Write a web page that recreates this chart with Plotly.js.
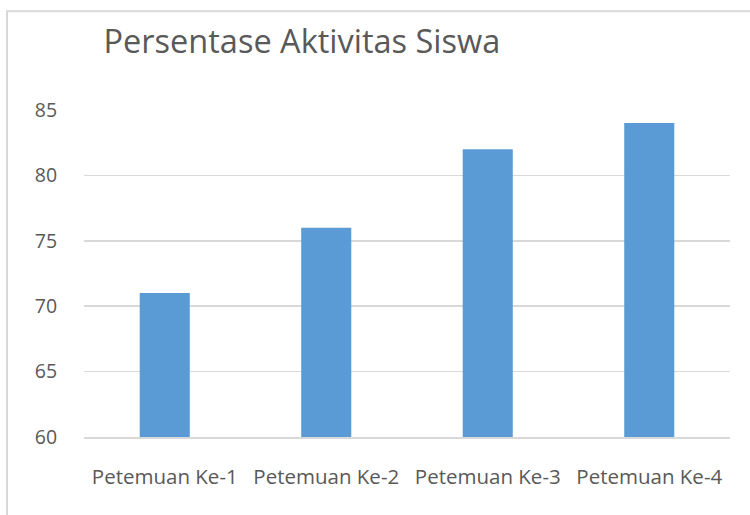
<!DOCTYPE html>
<html>
<head>
<meta charset="utf-8">
<script src="https://cdn.plot.ly/plotly-3.0.1.min.js"></script>
<style>html,body{margin:0;padding:0;background:#fff;}#chart{width:750px;height:515px;}</style>
</head>
<body>
<div id="chart"></div>
<script>
const categories = ["Petemuan Ke-1", "Petemuan Ke-2", "Petemuan Ke-3", "Petemuan Ke-4"];
const values = [71, 76, 82, 84];
const yTicks = [60, 65, 70, 75, 80, 85];

const trace = {
  type: 'bar',
  x: categories,
  y: values,
  marker: {color: '#5B9BD5'},
  hoverinfo: 'x+y'
};

const layout = {
  width: 750,
  height: 515,
  margin: {l: 84, r: 20, t: 110, b: 78},
  paper_bgcolor: '#ffffff',
  plot_bgcolor: '#ffffff',
  bargap: 0.69,
  showlegend: false,
  font: {family: 'Open Sans, sans-serif', color: '#595959'},
  title: {
    text: 'Persentase Aktivitas Siswa',
    font: {size: 32.5, color: '#595959', family: 'Open Sans, sans-serif'},
    xref: 'container', x: 0.138, xanchor: 'left',
    yref: 'container', y: 0.92, yanchor: 'middle'
  },
  xaxis: {
    type: 'category',
    showgrid: false,
    showline: true,
    linecolor: '#d9d9d9',
    linewidth: 2,
    ticks: 'outside',
    ticklen: 20,
    tickcolor: 'rgba(0,0,0,0)',
    tickfont: {size: 20.5, color: '#595959'}
  },
  yaxis: {
    range: [60, 85],
    tickvals: yTicks,
    ticktext: yTicks.map(String),
    showgrid: true,
    gridcolor: '#d9d9d9',
    gridwidth: 1.5,
    zeroline: false,
    showline: false,
    ticks: 'outside',
    ticklen: 22,
    tickcolor: 'rgba(0,0,0,0)',
    tickfont: {size: 19.5, color: '#595959'}
  },
  shapes: [{
    type: 'rect', xref: 'paper', yref: 'paper',
    x0: -0.1192, x1: 1.5, y0: -0.6, y1: 1.3023,
    line: {color: '#d9d9d9', width: 2},
    fillcolor: 'rgba(0,0,0,0)',
    layer: 'below'
  }]
};

Plotly.newPlot('chart', [trace], layout, {displayModeBar: false, staticPlot: true});
</script>
</body>
</html>
